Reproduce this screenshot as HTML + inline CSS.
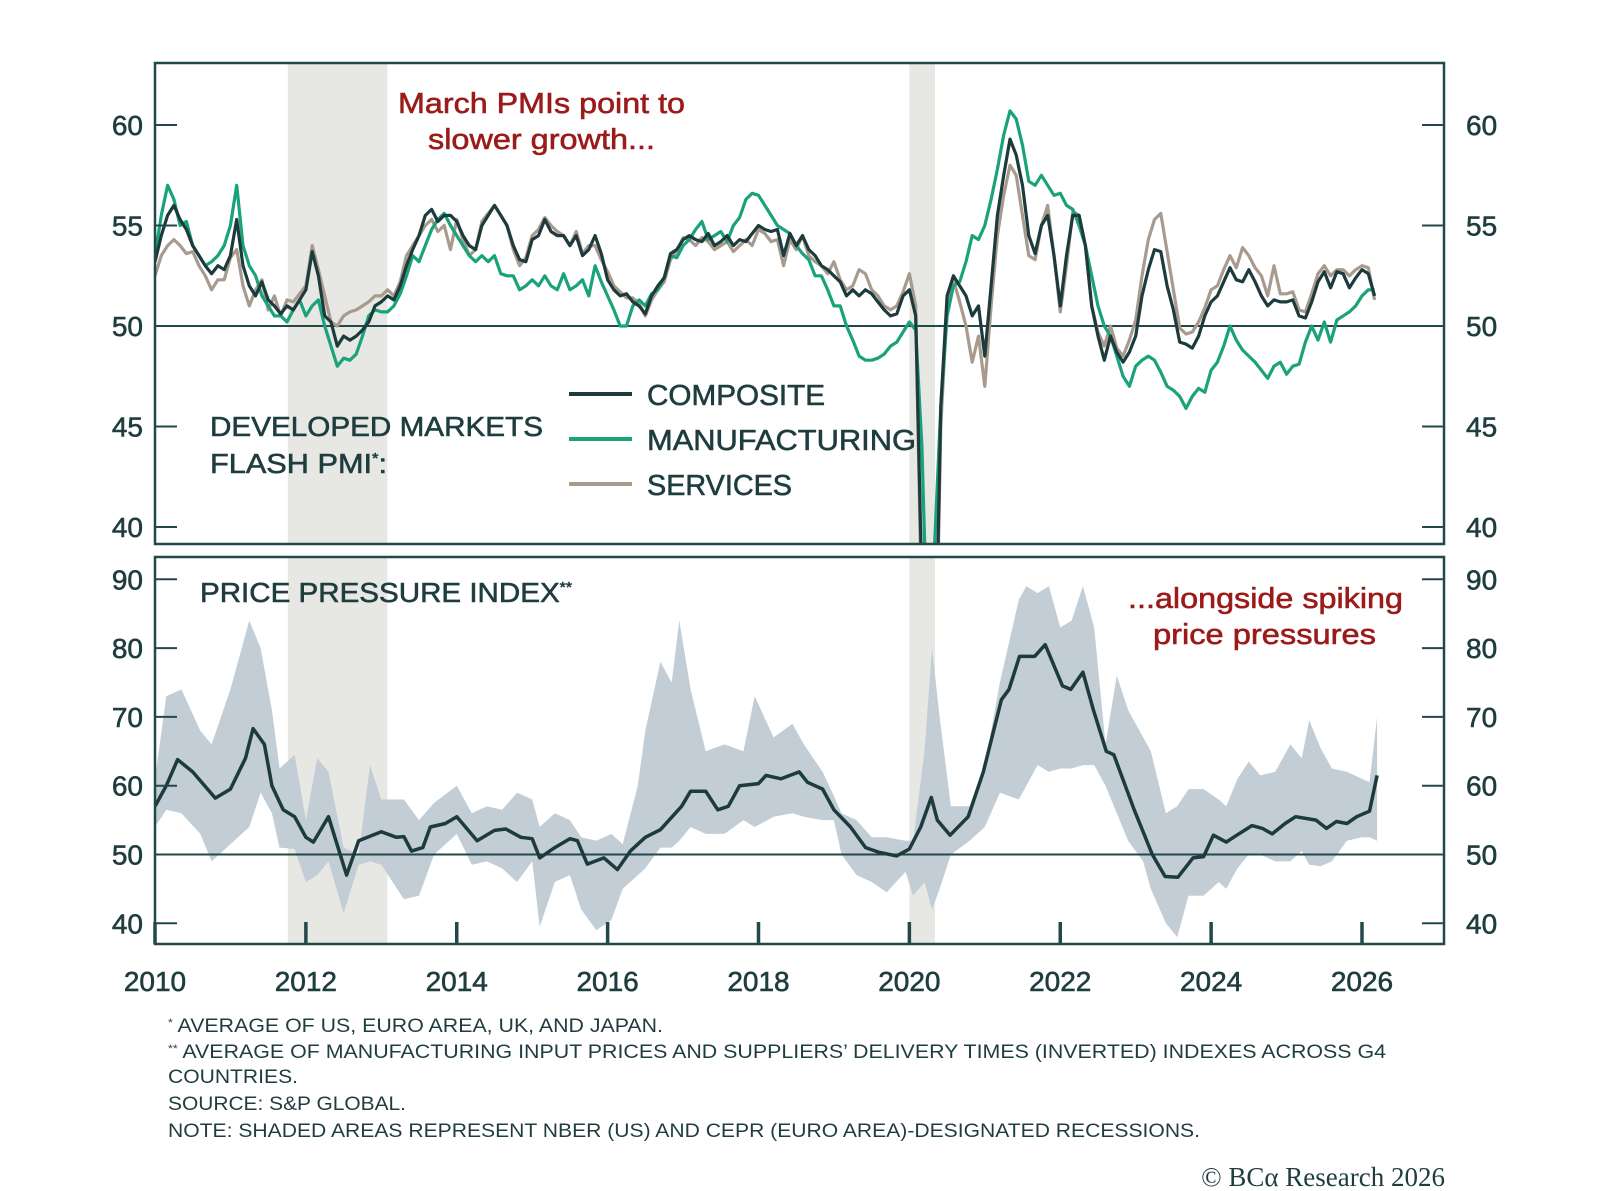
<!DOCTYPE html>
<html><head><meta charset="utf-8"><style>
html,body{margin:0;padding:0;background:#fff;}
svg{display:block;font-family:"Liberation Sans",sans-serif;}
.sb{stroke-width:0.6;}
</style></head><body>
<svg id="chart" width="1600" height="1191" viewBox="0 0 1600 1191" xmlns="http://www.w3.org/2000/svg">
<defs>
<clipPath id="clipTop"><rect x="155" y="63" width="1289" height="481"/></clipPath>
<clipPath id="clipBot"><rect x="155" y="557" width="1289" height="387"/></clipPath>
</defs>
<g id="shades"></g>
<g id="band" clip-path="url(#clipBot)"></g>
<g id="refl"></g>
<g id="linesTop" clip-path="url(#clipTop)"></g>
<g id="linesBot" clip-path="url(#clipBot)"></g>
<g id="axes"></g>

<text x="398" y="113" textLength="287" lengthAdjust="spacingAndGlyphs" font-size="29" fill="#9b1b1b" stroke="#9b1b1b" class="sb">March PMIs point to</text>
<text x="428" y="149" textLength="227" lengthAdjust="spacingAndGlyphs" font-size="29" fill="#9b1b1b" stroke="#9b1b1b" class="sb">slower growth...</text>
<text x="1128" y="608" textLength="275" lengthAdjust="spacingAndGlyphs" font-size="29" fill="#9b1b1b" stroke="#9b1b1b" class="sb">...alongside spiking</text>
<text x="1153" y="644" textLength="223" lengthAdjust="spacingAndGlyphs" font-size="29" fill="#9b1b1b" stroke="#9b1b1b" class="sb">price pressures</text>

<text x="210" y="436" textLength="333" lengthAdjust="spacingAndGlyphs" font-size="28" fill="#1f3d3f" stroke="#1f3d3f" class="sb">DEVELOPED MARKETS</text>
<text x="210" y="473" textLength="177" lengthAdjust="spacingAndGlyphs" font-size="28" fill="#1f3d3f" stroke="#1f3d3f" class="sb">FLASH PMI<tspan font-size="15" dy="-10">*</tspan><tspan dy="10">:</tspan></text>
<text x="200" y="602" textLength="372" lengthAdjust="spacingAndGlyphs" font-size="28" fill="#1f3d3f" stroke="#1f3d3f" class="sb">PRICE PRESSURE INDEX<tspan font-size="15" dy="-10">**</tspan></text>

<g>
<line x1="569" y1="394" x2="632" y2="394" stroke="#1d3b3c" stroke-width="4"/>
<text x="647" y="405" textLength="178" lengthAdjust="spacingAndGlyphs" font-size="29" fill="#1f3d3f" stroke="#1f3d3f" class="sb">COMPOSITE</text>
<line x1="569" y1="439" x2="632" y2="439" stroke="#1aa27a" stroke-width="4"/>
<text x="647" y="450" textLength="269" lengthAdjust="spacingAndGlyphs" font-size="29" fill="#1f3d3f" stroke="#1f3d3f" class="sb">MANUFACTURING</text>
<line x1="569" y1="484" x2="632" y2="484" stroke="#a89b8e" stroke-width="4"/>
<text x="647" y="495" textLength="145" lengthAdjust="spacingAndGlyphs" font-size="29" fill="#1f3d3f" stroke="#1f3d3f" class="sb">SERVICES</text>
</g>

<g font-size="19" fill="#1f3d3f">
<text x="168" y="1032" textLength="495" lengthAdjust="spacingAndGlyphs"><tspan font-size="11" dy="-6">*</tspan><tspan dy="6"> AVERAGE OF US, EURO AREA, UK, AND JAPAN.</tspan></text>
<text x="168" y="1058" textLength="1218" lengthAdjust="spacingAndGlyphs"><tspan font-size="11" dy="-6">**</tspan><tspan dy="6"> AVERAGE OF MANUFACTURING INPUT PRICES AND SUPPLIERS’ DELIVERY TIMES (INVERTED) INDEXES ACROSS G4</tspan></text>
<text x="168" y="1083" textLength="130" lengthAdjust="spacingAndGlyphs">COUNTRIES.</text>
<text x="168" y="1110" textLength="238" lengthAdjust="spacingAndGlyphs">SOURCE: S&amp;P GLOBAL.</text>
<text x="168" y="1137" textLength="1032" lengthAdjust="spacingAndGlyphs">NOTE: SHADED AREAS REPRESENT NBER (US) AND CEPR (EURO AREA)-DESIGNATED RECESSIONS.</text>
</g>
<text x="1445" y="1186" text-anchor="end" font-family="Liberation Serif, serif" font-size="27" fill="#1f3d3f">© BCα Research 2026</text>
</svg>
<script>
// ---- data ----
const recessionStarts=[2011.76,2020.0];
const recessionEnds=[2013.08,2020.34];
const topTicks=[40,45,50,55,60];
const botTicks=[40,50,60,70,80,90];
const yearTicks=[2010,2012,2014,2016,2018,2020,2022,2024,2026];
// monthly from Jan 2010
const composite=[53.2,54.5,55.5,56,55.3,54.8,54,53.5,53,52.6,53,52.8,
53.5,55.3,53,52,51.5,52.2,51.3,51,50.6,51,50.8,51.3,
51.8,53.7,52.5,50.5,50.2,49,49.5,49.3,49.5,49.8,50.2,51,
51.2,51.5,51.3,52,53,53.8,54.5,55.5,55.8,55.2,55.5,55.5,
55.2,54.5,54,53.8,55,55.5,56,55.5,55,54,53.3,53.2,
54.3,54.5,55.3,54.7,54.5,54.5,54,54.5,53.5,53.8,54.5,53.6,
52.3,51.8,51.5,51.6,51.2,51,50.6,51.5,52,52.4,53.6,53.8,
54.3,54.5,54.3,54.2,54.6,54,54.2,54.5,54,54.3,54.2,54.6,
55,54.8,54.7,54.8,53.5,54.6,54,54.5,53.8,53.5,53,52.8,
52.5,52.2,51.5,51.8,51.5,51.8,51.6,51.2,50.8,50.5,50.6,51.5,
51.8,50.5,37,17,30,46,51.5,52.5,52,51.5,50.5,51,
48.5,52,55.5,57.5,59.3,58.5,57,54.5,53.6,55,55.5,53.5,
51,53.5,55.5,55.5,54,51,49.5,48.3,49.5,48.7,48.2,48.7,
49.5,51.5,52.8,53.8,53.7,52,50.8,49.2,49.1,48.9,49.5,50.5,
51.2,51.5,52.2,52.9,52.3,52.2,52.8,52.2,51.5,51,51.3,51.2,
51.2,51.3,50.5,50.4,51.2,52.2,52.7,51.9,52.7,52.6,51.9,52.4,
52.8,52.6,51.5];
const manufacturing=[53.5,55.5,57,56.3,55,55.2,54,53.5,53,53.2,53.5,54,
55,57,54,53,52.5,51.5,51,50.5,50.5,50.2,50.8,51.3,
50.5,51,51.3,50,49,48,48.4,48.3,48.6,49.5,50.5,50.8,
50.7,50.7,51,51.6,52.5,53.5,53.2,54,54.8,55.3,55.6,55,
54.5,54,53.5,53.2,53.5,53.2,53.5,52.6,52.5,52.5,51.8,52,
52.3,52,52.5,52,51.8,52.6,51.8,52,52.3,51.5,53,52.2,
51.5,50.8,50,50,51,51.3,51,51.6,51.8,52.4,53.5,53.4,
54,54.3,54.8,55.2,54.3,54.5,54.7,54.2,55,55.4,56.3,56.6,
56.5,56,55.5,55,54.8,54.6,54,53.6,53.3,52.5,52.5,51.8,
51,51,50,49.3,48.5,48.3,48.3,48.4,48.6,49,49.2,49.7,
50.2,49.8,44,33,39,46,50.5,52,52.2,53.2,54.5,54.3,
55,56.3,57.8,59.5,60.7,60.3,59,57.2,57,57.5,57,56.5,
56.6,56,55.8,55,54,52.5,51,50,49.5,48.5,47.5,47,
48,48.3,48.5,48.3,47.7,47,46.8,46.5,45.9,46.5,46.9,46.7,
47.8,48.2,49,50,49.3,48.8,48.5,48.2,47.8,47.4,48,48.2,
47.6,48,48.1,49.2,50,49.3,50.2,49.2,50.3,50.5,50.7,51,
51.5,51.8,51.8];
const services=[52.5,53.5,54,54.3,54,53.6,53.7,53,52.5,51.8,52.3,52.3,
53.4,53.8,52,51,51.8,52.3,50.8,51.5,50.5,51.3,51.2,51.6,
52,54,52.8,51.5,50.2,50,50.5,50.7,50.8,51,51.2,51.5,
51.5,51.8,51.5,52.2,53.5,54,54.5,55,55.3,54.7,55,53.8,
55.3,54.3,53.5,53.8,55.2,55.6,56,55.5,55,53.8,53,53.4,
54.5,54.8,55.4,55,54.7,54.5,54,54.7,53.6,54,54,53.3,
52.7,52,51.7,51.4,51.4,51.1,50.5,51.3,51.8,52.2,53.3,53.7,
54.4,54.3,54,54.4,54.2,53.8,54,54.2,53.7,54,54.3,54,
54.8,54.6,54.2,54.3,53,54.3,53.8,54.5,53.5,53.2,53,52.6,
53.2,52.3,51.8,52,52.8,52.6,51.8,51.5,51,50.8,51,51.7,
52.6,51,35,14,29,45,51,52.3,51.2,50,48.2,49.5,
47,51,54.5,56.5,58,57.5,55.5,53.5,53.3,55,56,53.5,
50.7,53,55.7,55.5,54,51,49.7,49,50,48.9,48.5,49.3,
50.3,52.5,54.3,55.3,55.6,53.7,51.8,49.9,49.6,49.7,50.2,50.9,
51.8,52,52.8,53.5,52.9,53.9,53.5,52.9,52.5,51.5,53,51.6,
51.6,51.7,50.8,50.7,51.6,52.6,53,52.5,52.8,52.8,52.5,52.8,
53,52.9,51.3];
// price pressure index (decimal year dates)
const ppiDates=[2010.0,2010.15,2010.3,2010.5,2010.8,2011.0,2011.2,2011.3,2011.45,2011.55,2011.7,2011.85,2012.0,2012.1,2012.3,2012.54,2012.7,2013.0,2013.2,2013.3,2013.4,2013.55,2013.65,2013.85,2014.0,2014.27,2014.5,2014.65,2014.85,2015.0,2015.1,2015.3,2015.5,2015.6,2015.73,2015.95,2016.13,2016.3,2016.5,2016.7,2016.98,2017.1,2017.3,2017.46,2017.6,2017.75,2018.0,2018.1,2018.3,2018.54,2018.65,2018.85,2019.0,2019.22,2019.42,2019.6,2019.83,2020.0,2020.15,2020.29,2020.37,2020.54,2020.78,2020.98,2021.22,2021.32,2021.46,2021.66,2021.8,2022.03,2022.14,2022.3,2022.44,2022.61,2022.71,2022.98,2023.22,2023.39,2023.56,2023.76,2023.9,2024.03,2024.2,2024.34,2024.54,2024.68,2024.81,2024.98,2025.12,2025.39,2025.53,2025.66,2025.8,2025.93,2026.1,2026.2];
const ppiValues=[57,60,63.8,62,58.2,59.5,64,68.3,66,60,56.5,55.5,52.5,51.8,55.5,47,52,53.3,52.5,52.6,50.5,51,54,54.5,55.5,52,53.5,53.7,52.5,52.3,49.5,51,52.3,52,48.6,49.5,47.8,50.5,52.5,53.6,57,59.2,59.2,56.5,57,60,60.3,61.5,61,62,60.5,59.5,56.5,54,51,50.3,49.8,50.8,54,58.3,55,52.8,55.5,62,72.5,74,78.8,78.8,80.5,74.5,74,76.5,71,65,64.5,56.5,50,46.8,46.7,49.5,49.7,52.8,51.8,52.8,54.2,53.8,53,54.5,55.5,55,53.8,54.8,54.5,55.5,56.3,61.5];
const bandDates=[2010.0,2010.15,2010.35,2010.6,2010.75,2011.0,2011.25,2011.4,2011.55,2011.65,2011.85,2012.0,2012.15,2012.3,2012.5,2012.7,2012.85,2013.0,2013.3,2013.5,2013.7,2014.0,2014.2,2014.4,2014.6,2014.8,2015.0,2015.1,2015.3,2015.5,2015.65,2015.85,2016.05,2016.2,2016.4,2016.5,2016.7,2016.85,2016.95,2017.1,2017.3,2017.55,2017.8,2017.95,2018.2,2018.45,2018.6,2018.85,2019.0,2019.1,2019.3,2019.5,2019.7,2019.95,2020.05,2020.2,2020.3,2020.4,2020.55,2020.8,2021.0,2021.2,2021.45,2021.55,2021.7,2021.85,2022.0,2022.15,2022.3,2022.45,2022.6,2022.75,2022.9,2023.1,2023.2,2023.4,2023.55,2023.7,2023.9,2024.1,2024.2,2024.35,2024.5,2024.65,2024.85,2025.05,2025.2,2025.3,2025.45,2025.6,2025.8,2026.0,2026.1,2026.2];
const bandUpper=[61,73,74,68,66,74,84,80,71,62.5,64.5,55,64,62,51,50,63,58,58,55,57.5,60,56,57,56.5,59,58,54,56,55,52.5,52,53,51.5,60,68,78,75,84,74,65,66,65,73,67,69,66,62,58.5,56,55,52.5,52.5,52,52,65,80,70,57,57,63,75,87,89,88,89,83,84,89,83,66,76,71,67,65,56,57,59.5,59.5,58,57,61,63.5,61.5,62,66,64,69.5,65.5,62.5,62,61,60.5,70];
const bandLower=[54,56.5,56,53,49,51.5,54,59,56,51,50.8,46,47,49,41.5,48.5,49,48.5,43.5,44,50,53,48.5,49,48,46,49,39.5,46,47,42,39,40.5,45,47,48,51,51,52,54,53,53,55,54,55.5,56,55.5,55,55,50,47,46,44.5,47.5,44,46,42,45,50,52,54,59,58,60,63,62,62.5,62.5,63,63,60,56,52,49,45,40,38,44,44,46,45,48,50,50,49,49,50.5,48.5,48.3,49,52,52.5,52.5,52];

// ---- scales ----
const NS='http://www.w3.org/2000/svg';
const X0=155,X1=1444,PX_PER_YEAR=(1362-155)/16;
const xYear=y=>X0+(y-2010)*PX_PER_YEAR;
const xMonth=i=>xYear(2010+i/12);
const yTop=v=>326-(v-50)*20.1;
const yBot=v=>854.5-(v-50)*6.88;
function mk(tag,attrs,parent){const e=document.createElementNS(NS,tag);for(const k in attrs)e.setAttribute(k,attrs[k]);parent.appendChild(e);return e;}
const $=id=>document.getElementById(id);

recessionStarts.forEach((s,i)=>{
  [[63,544],[557,944]].forEach(([a,b])=>{
    const r=mk('rect',{x:xYear(s),y:a,width:xYear(recessionEnds[i])-xYear(s),height:b-a,fill:'#e7e7e3'},$('shades'));
    
    
  });
});

{
  let d='M'+bandDates.map((t,i)=>xYear(t).toFixed(1)+','+yBot(bandUpper[i]).toFixed(1)).join('L');
  for(let i=bandDates.length-1;i>=0;i--) d+='L'+xYear(bandDates[i]).toFixed(1)+','+yBot(bandLower[i]).toFixed(1);
  const p=mk('path',{d:d+'Z',fill:'#c2cdd6'},$('band'));
  
  
}
{
  const a=mk('line',{x1:X0,x2:X1,y1:yTop(50),y2:yTop(50),stroke:'#23484a','stroke-width':2},$('refl'));
  
  
  const b=mk('line',{x1:X0,x2:X1,y1:yBot(50),y2:yBot(50),stroke:'#23484a','stroke-width':2},$('refl'));
  
  
}
function monthlyPath(arr){return 'M'+arr.map((v,i)=>xMonth(i).toFixed(1)+','+yTop(v).toFixed(1)).join('L');}
const sS=mk('path',{d:monthlyPath(services),fill:'none',stroke:'#a89b8e','stroke-width':3.2,'stroke-linejoin':'round'},$('linesTop'));


const sM=mk('path',{d:monthlyPath(manufacturing),fill:'none',stroke:'#1aa27a','stroke-width':3.2,'stroke-linejoin':'round'},$('linesTop'));


const sC=mk('path',{d:monthlyPath(composite),fill:'none',stroke:'#1d3b3c','stroke-width':3.2,'stroke-linejoin':'round'},$('linesTop'));


{
  const p=mk('path',{d:'M'+ppiDates.map((t,i)=>xYear(t).toFixed(1)+','+yBot(ppiValues[i]).toFixed(1)).join('L'),fill:'none',stroke:'#1d3b3c','stroke-width':3.5,'stroke-linejoin':'round'},$('linesBot'));
  
  
}
const ax=$('axes'), C='#23484a';
const f1=mk('rect',{x:X0,y:63,width:X1-X0,height:481,fill:'none',stroke:C,'stroke-width':2.5},ax);


const f2=mk('rect',{x:X0,y:557,width:X1-X0,height:387,fill:'none',stroke:C,'stroke-width':2.5},ax);


function label(x,y,txt,anchor,name){
  const t=mk('text',{x:x,y:y,'text-anchor':anchor,'font-size':28,fill:'#1f3d3f',stroke:'#1f3d3f','stroke-width':0.6},ax);
  t.textContent=txt;
  
  
}
topTicks.forEach(v=>{
  const y=yTop(v);
  mk('line',{x1:X0,x2:X0+22,y1:y,y2:y,stroke:C,'stroke-width':2},ax);
  mk('line',{x1:X1-22,x2:X1,y1:y,y2:y,stroke:C,'stroke-width':2},ax);
  label(143,y+10,String(v),'end','top-left-tick-label');
  label(1466,y+10,String(v),'start','top-right-tick-label');
});
botTicks.forEach(v=>{
  const y=yBot(v);
  mk('line',{x1:X0,x2:X0+22,y1:y,y2:y,stroke:C,'stroke-width':2},ax);
  mk('line',{x1:X1-22,x2:X1,y1:y,y2:y,stroke:C,'stroke-width':2},ax);
  label(143,y+10,String(v),'end','bottom-left-tick-label');
  label(1466,y+10,String(v),'start','bottom-right-tick-label');
});
yearTicks.forEach(yr=>{
  const x=xYear(yr);
  mk('line',{x1:x,x2:x,y1:944,y2:922,stroke:C,'stroke-width':3.5},ax);
  label(x,991,String(yr),'middle','x-axis-year-label');
});
</script>
</body></html>
